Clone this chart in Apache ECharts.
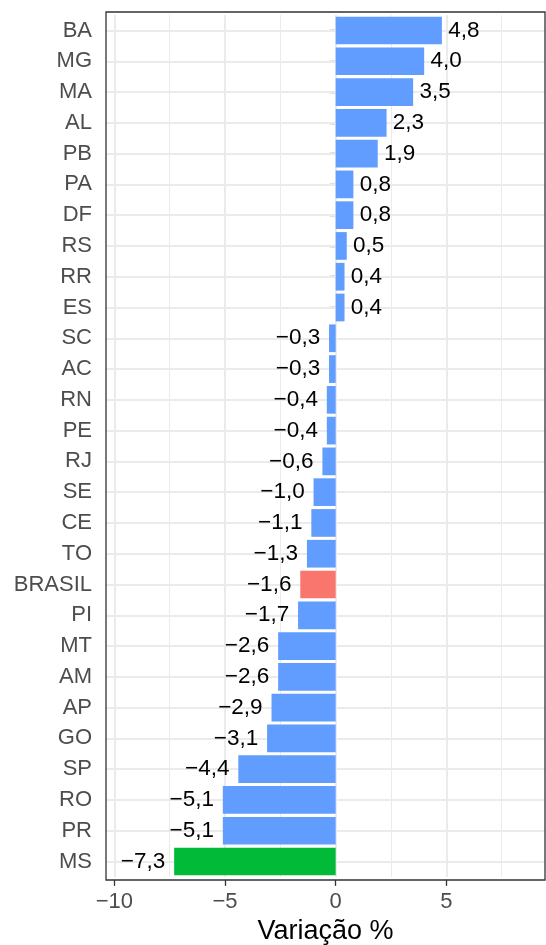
<!DOCTYPE html>
<html>
<head>
<meta charset="utf-8">
<script src="https://cdn.jsdelivr.net/npm/echarts@6/dist/echarts.min.js"></script>
<style>
  html, body { margin: 0; padding: 0; background: #fff; }
</style>
</head>
<body>
<div id="main" style="width:546px;height:945px"></div>
<script>
    var estados = ['BA', 'MG', 'MA', 'AL', 'PB', 'PA', 'DF', 'RS', 'RR', 'ES', 'SC', 'AC', 'RN', 'PE',
        'RJ', 'SE', 'CE', 'TO', 'BRASIL', 'PI', 'MT', 'AM', 'AP', 'GO', 'SP', 'RO', 'PR', 'MS'];
    var variacao = [4.8, 4.0, 3.5, 2.3, 1.9, 0.8, 0.8, 0.5, 0.4, 0.4, -0.3, -0.3, -0.4, -0.4,
        -0.6, -1.0, -1.1, -1.3, -1.6, -1.7, -2.6, -2.6, -2.9, -3.1, -4.4, -5.1, -5.1, -7.3];
    var ticksX = [-10, -5, 0, 5];
    var ticksMenores = [-7.5, -2.5, 2.5, 7.5];

    var myChart = echarts.init(document.getElementById('main'));

    var cores = { BRASIL: '#F8766D', MS: '#00BA38' };
    var fonte = '"Liberation Sans", Arial, Helvetica, sans-serif';
    var tamRotulo = 22.5;

    function fmt(v) {
        return v.toFixed(1).replace('.', ',').replace('-', '\u2212');
    }

    // largura do texto, para imitar o hjust do ggplot (folga de 20% da largura)
    var ctx = document.createElement('canvas').getContext('2d');
    ctx.font = tamRotulo + 'px ' + fonte;
    function largura(t) { return ctx.measureText(t).width; }

    var dados = estados.map(function (e, i) {
        var v = variacao[i];
        return {
            value: v,
            itemStyle: { color: cores[e] || '#619CFF' },
            label: {
                position: v >= 0 ? 'right' : 'left',
                distance: 0.2 * largura(fmt(v))
            }
        };
    });

    // linhas de grade (estilo ggplot)
    var grade = [];
    ticksMenores.forEach(function (v) {
        grade.push({ xAxis: v, lineStyle: { color: '#EBEBEB', width: 1, type: 'solid' } });
    });
    ticksX.forEach(function (v) {
        grade.push({ xAxis: v, lineStyle: { color: '#EBEBEB', width: 2, type: 'solid' } });
    });
    estados.forEach(function (e) {
        grade.push({ yAxis: e, lineStyle: { color: '#EBEBEB', width: 2, type: 'solid' } });
    });

    var option = {
        backgroundColor: '#fff',
        animation: false,
        textStyle: { fontFamily: fonte },
        grid: {
            left: 106,
            right: 1,
            top: 15.1,
            bottom: 68.1,
            containLabel: false,
            outerBoundsMode: 'none'
        },
        xAxis: {
            type: 'value',
            min: -10.38,
            max: 9.46,
            offset: 3,
            splitLine: { show: false },
            axisLine: { show: false },
            axisTick: {
                show: true,
                length: 6,
                customValues: ticksX,
                lineStyle: { color: '#333333', width: 1.3 }
            },
            axisLabel: {
                customValues: ticksX,
                margin: 11,
                fontSize: 22,
                color: '#4D4D4D',
                fontFamily: fonte,
                formatter: function (v) { return String(v).replace('-', '\u2212'); }
            },
            name: 'Varia\u00e7\u00e3o %',
            nameLocation: 'middle',
            nameGap: 38,
            nameMoveOverlap: false,
            nameTextStyle: { fontSize: 27, color: '#000', fontFamily: fonte }
        },
        yAxis: {
            type: 'category',
            inverse: true,
            data: estados,
            axisLine: { show: false },
            splitLine: { show: false },
            axisTick: {
                show: true,
                alignWithLabel: true,
                length: 6,
                lineStyle: { color: '#333333', width: 1.3 }
            },
            axisLabel: {
                margin: 14,
                fontSize: 22,
                color: '#4D4D4D',
                fontFamily: fonte
            }
        },
        graphic: [{
            type: 'rect',
            z: 100,
            shape: { x: 106, y: 12, width: 439, height: 868 },
            style: { fill: 'none', stroke: '#333333', lineWidth: 1.3 },
            silent: true
        }],
        series: [{
            type: 'bar',
            data: dados,
            barCategoryGap: '10%',
            z: 2,
            label: {
                show: true,
                fontSize: tamRotulo,
                color: '#000',
                fontFamily: fonte,
                formatter: function (p) { return fmt(p.value); }
            },
            markLine: {
                silent: true,
                z: 1,
                symbol: 'none',
                label: { show: false },
                animation: false,
                data: grade
            }
        }]
    };

    myChart.setOption(option);
</script>
</body>
</html>
